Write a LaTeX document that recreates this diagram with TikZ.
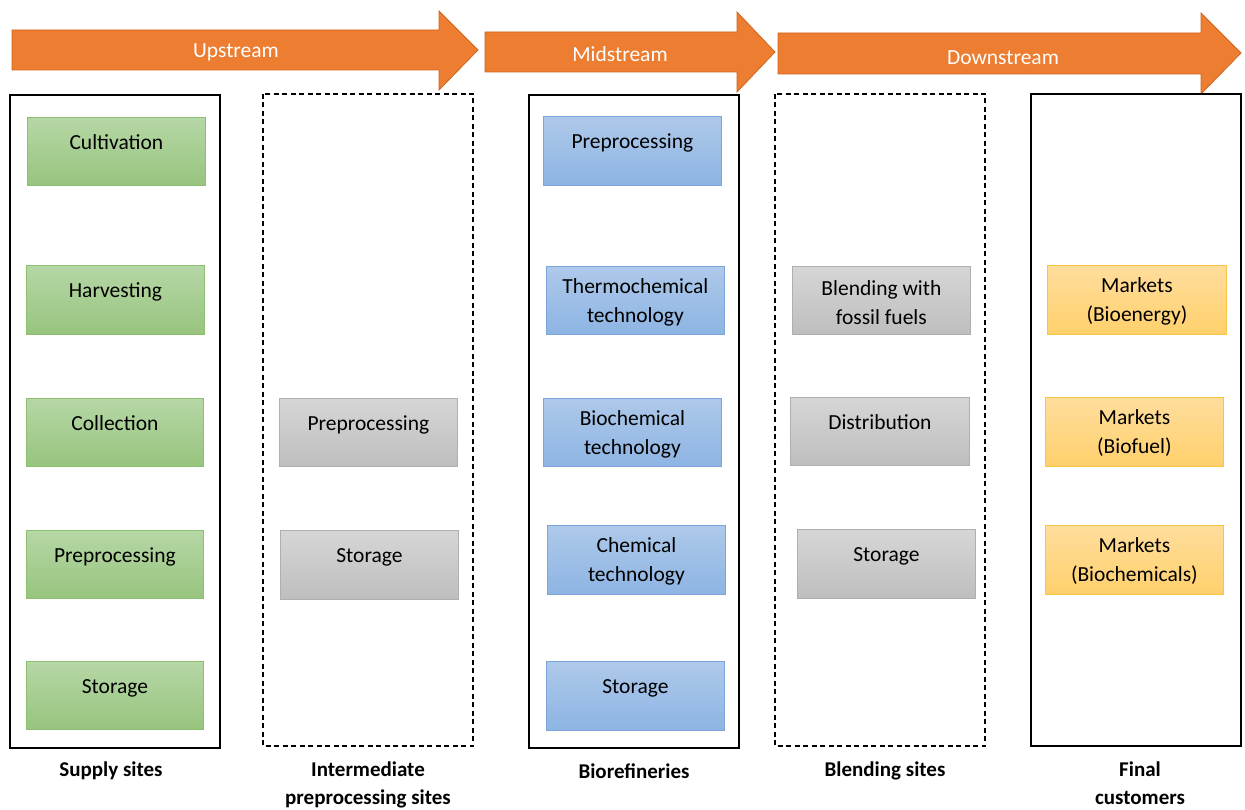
\documentclass[tikz,border=0pt]{standalone}
\usepackage{fontspec}
\setmainfont{Carlito}
\begin{document}
\begin{tikzpicture}[x=1pt,y=-1pt,
  arrowshape/.style={fill=arrOrange,draw=arrEdge,line width=0.8pt},
  arrowtext/.style={text=white,font=\fontsize{21.5}{24}\selectfont,inner sep=0},
  column/.style={draw=black,line width=1.2pt},
  dcolumn/.style={draw=black,line width=1.1pt,dash pattern=on 5pt off 3.5pt},
  boxbase/.style={rectangle,anchor=north west,inner sep=0,line width=0.8pt},
  greenbox/.style={boxbase,top color=gTop,bottom color=gBot,draw=gEdge},
  bluebox/.style={boxbase,top color=bTop,bottom color=bBot,draw=bEdge},
  graybox/.style={boxbase,top color=yTopG,bottom color=yBotG,draw=grEdge},
  yellowbox/.style={boxbase,top color=yTop,bottom color=yBot,draw=yEdge},
  boxtext/.style={inner sep=0,align=center,font=\fontsize{21.5}{29}\selectfont,text=black},
  onetext/.style={boxtext,text height=14pt,text depth=4.5pt},
  foot/.style={inner sep=0,align=center,font=\bfseries\fontsize{21}{28}\selectfont}]
\definecolor{arrOrange}{HTML}{ED7D31}
\definecolor{arrEdge}{HTML}{D0651C}
\definecolor{gTop}{HTML}{B6D7A6}
\definecolor{gBot}{HTML}{97C47E}
\definecolor{gEdge}{HTML}{8CBF70}
\definecolor{bTop}{HTML}{AEC9EA}
\definecolor{bBot}{HTML}{8DB4E3}
\definecolor{bEdge}{HTML}{7DA5DA}
\definecolor{yTopG}{HTML}{D6D6D6}
\definecolor{yBotG}{HTML}{BEBEBE}
\definecolor{grEdge}{HTML}{AFAFAF}
\definecolor{yTop}{HTML}{FFDD9C}
\definecolor{yBot}{HTML}{FFD06C}
\definecolor{yEdge}{HTML}{F7C444}
\useasboundingbox (0,0) rectangle (1245,810);

% macros
\newcommand{\onebox}[7]{% name, x1,y1,x2,y2, style, text (single line)
  \node[#6,minimum width=#4-#2,minimum height=#5-#3] (#1) at (#2,#3) {};
  \node[onetext] (#1t) at ([yshift=-27.5pt]#1.north) {#7};}
\newcommand{\twobox}[7]{% two lines
  \node[#6,minimum width=#4-#2,minimum height=#5-#3] (#1) at (#2,#3) {};
  \node[boxtext] (#1t) at ([yshift=-36.5pt]#1.north) {#7};}

% arrows
\draw[arrowshape] (12,30) -- (439,30) -- (439,11) -- (478,50) -- (439,90) -- (439,70) -- (12,70) -- cycle;
\node[arrowtext] (up) at (236,52) {Upstream};
\draw[arrowshape] (485,32) -- (737,32) -- (737,12) -- (775,52) -- (737,92) -- (737,72) -- (485,72) -- cycle;
\node[arrowtext] (mid) at (620,54) {Midstream};
\draw[arrowshape] (778,33) -- (1201,33) -- (1201,13) -- (1241,53) -- (1201,94) -- (1201,74) -- (778,74) -- cycle;
\node[arrowtext] (down) at (1003,58) {Downstream};

% columns
\draw[column] (10,95) rectangle (220,748);
\draw[dcolumn] (263,94) rectangle (473,746);
\draw[column] (529,95) rectangle (739,748);
\draw[dcolumn] (775,94) rectangle (985,746);
\draw[column] (1031,94) rectangle (1241,746);

% supply
\onebox{g1}{27}{117}{205}{185}{greenbox}{Cultivation}
\onebox{g2}{26}{265}{204}{334}{greenbox}{Harvesting}
\onebox{g3}{26}{398}{203}{466}{greenbox}{Collection}
\onebox{g4}{26}{530}{203}{598}{greenbox}{Preprocessing}
\onebox{g5}{26}{661}{203}{729}{greenbox}{Storage}

% intermediate
\onebox{i1}{279}{398}{457}{466}{graybox}{Preprocessing}
\onebox{i2}{280}{530}{458}{599}{graybox}{Storage}

% biorefineries
\onebox{b1}{543}{116}{721}{185}{bluebox}{Preprocessing}
\twobox{b2}{546}{266}{724}{334}{bluebox}{Thermochemical\\technology}
\twobox{b3}{543}{398}{721}{466}{bluebox}{Biochemical\\technology}
\twobox{b4}{547}{525}{725}{594}{bluebox}{Chemical\\technology}
\onebox{b5}{546}{661}{724}{730}{bluebox}{Storage}

% blending
\twobox{l1}{792}{266}{970}{334}{graybox}{Blending with\\fossil fuels}
\onebox{l2}{790}{397}{969}{465}{graybox}{Distribution}
\onebox{l3}{797}{529}{975}{598}{graybox}{Storage}

% final customers
\twobox{m1}{1047}{265}{1226}{334}{yellowbox}{Markets\\(Bioenergy)}
\twobox{m2}{1045}{397}{1223}{466}{yellowbox}{Markets\\(Biofuel)}
\twobox{m3}{1045}{525}{1223}{594}{yellowbox}{Markets\\(Biochemicals)}

% footers
\node[foot,anchor=north] (f1) at (111,762) {Supply sites};
\node[foot,anchor=north] (f2) at (368,762) {Intermediate\\preprocessing sites};
\node[foot,anchor=north] (f3) at (634,764) {Biorefineries};
\node[foot,anchor=north] (f4) at (885,762) {Blending sites};
\node[foot,anchor=north] (f5) at (1140,762) {Final\\customers};
\end{tikzpicture}
\end{document}
